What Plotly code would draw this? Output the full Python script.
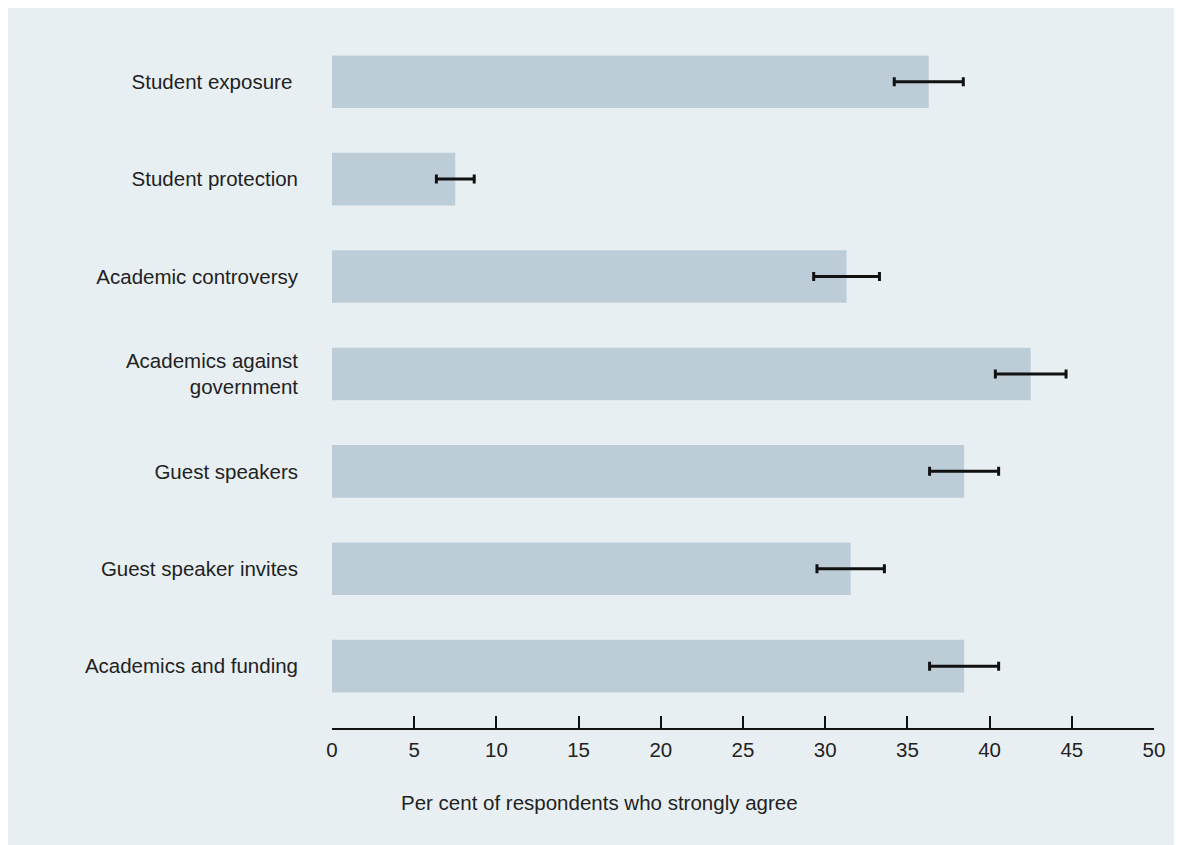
import plotly.graph_objects as go

categories = [
    "Student exposure\u00a0",
    "Student protection",
    "Academic controversy",
    "Academics against<br>government",
    "Guest speakers",
    "Guest speaker invites",
    "Academics and funding",
]
values = [36.3, 7.5, 31.3, 42.5, 38.45, 31.55, 38.45]
errors = [2.1, 1.15, 2.0, 2.15, 2.1, 2.05, 2.1]
x_title = "Per cent of respondents who strongly agree"
x_ticks = [0, 5, 10, 15, 20, 25, 30, 35, 40, 45, 50]

PANEL = "#e8eff3"
BAR = "#bdcdd8"
TEXT = "#222222"
FONT = "Liberation Sans, Arial, Helvetica, sans-serif"

# page has an 8px body margin; figure fills the rest of the window
W, H = 1174, 837
L, R, T, B = 323.5, 27.5, 25, 117
pw, ph = W - L - R, H - T - B

fig = go.Figure()
fig.add_trace(go.Bar(
    x=values,
    y=categories,
    orientation="h",
    marker=dict(color=BAR, line=dict(width=0)),
    error_x=dict(type="data", array=errors, visible=True,
                 color="#111111", thickness=3, width=4.5),
    hoverinfo="x+y",
    showlegend=False,
))

fig.add_annotation(
    text=x_title, xref="paper", yref="paper",
    x=(591 - L) / pw, y=-(794 - (T + ph)) / ph,
    xanchor="center", yanchor="middle", showarrow=False,
    font=dict(family=FONT, size=20.5, color=TEXT),
)

fig.update_layout(
    width=W, height=H,
    margin=dict(l=L, r=R, t=T, b=B, pad=0),
    paper_bgcolor=PANEL,
    plot_bgcolor=PANEL,
    bargap=0.46,
    font=dict(family=FONT, size=20.5, color=TEXT),
    xaxis=dict(
        range=[0, 50], tickvals=x_ticks, ticktext=[str(v) for v in x_ticks],
        showgrid=False, zeroline=False,
        showline=True, linecolor="#111111", linewidth=2,
        ticks="inside", ticklen=12, tickwidth=2, tickcolor="#111111",
        ticklabelstandoff=2,
        tickfont=dict(family=FONT, size=20.5, color=TEXT),
    ),
    yaxis=dict(
        type="category", range=[6.635, -0.5],
        showgrid=False, zeroline=False, showline=False, ticks="",
        ticklabelstandoff=33,
        tickfont=dict(family=FONT, size=20.5, color=TEXT),
    ),
)

fig.write_html("out.html")
